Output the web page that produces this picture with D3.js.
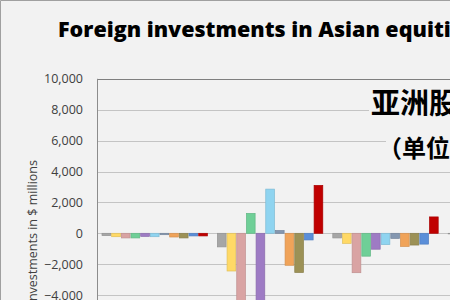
<!DOCTYPE html>
<html>
<head>
<meta charset="utf-8">
<script src="https://cdn.jsdelivr.net/npm/d3@7"></script>
<style>
  html, body { margin: 0; padding: 0; background: #f2f2f2; overflow: hidden; }
  svg { display: block; }
</style>
</head>
<body>
<div id="chart"></div>
<script>
// ---- data ----
const categories = ["Period 1", "Period 2", "Period 3", "Period 4"];
const seriesNames = ["India", "Indonesia", "Japan", "Malaysia", "Pakistan", "Philippines",
                     "South Korea", "Sri Lanka", "Taiwan", "Thailand", "Vietnam"];
const seriesColors = ["#a6a6a6", "#ffd966", "#d9a3a3", "#6fcf97", "#9e7bc4", "#8fd4f0",
                      "#8497b0", "#f0a359", "#9c9156", "#5b8fd9", "#c00000"];
const india       = [-150,  -880,  -300, -40];
const indonesia   = [-220, -2440,  -650, null];
const japan       = [-300, -5200, -2550, null];
const malaysia    = [-300,  1290, -1480, null];
const pakistan    = [-200, -5000, -1030, null];
const philippines = [-220,  2860,  -730, null];
const southKorea  = [-90,    180,  -330, null];
const sriLanka    = [-240, -2070,  -850, null];
const taiwan      = [-300, -2540,  -760, null];
const thailand    = [-170,  -430,  -700, null];
const vietnam     = [-170,  3100,  1060, null];
const yTicks = [-4000, -2000, 0, 2000, 4000, 6000, 8000, 10000];
const titleText = "Foreign investments in Asian equities";
const yAxisTitle = "Investments in $ millions";
const noteLine1 = "亚洲股市";
const noteLine2 = "（单位：百万美元）";

const seriesValues = [india, indonesia, japan, malaysia, pakistan, philippines,
                      southKorea, sriLanka, taiwan, thailand, vietnam];

// ---- layout ----
const W = 450, H = 300;
const plotLeft = 97, groupStep = 115.4;
const yTop = 78.8, yZero = 233.3;

const svg = d3.select("#chart").append("svg")
  .attr("width", W).attr("height", H);

svg.append("rect").attr("x", 0).attr("y", 0).attr("width", W).attr("height", H)
  .attr("fill", "#f2f2f2");

const y = d3.scaleLinear().domain([0, 10000]).range([yZero, yTop]);
const x0 = d3.scaleBand().domain(categories)
  .range([plotLeft, plotLeft + groupStep * categories.length]).padding(0);
const x1 = d3.scaleBand().domain(seriesNames)
  .range([5, groupStep - 5]).paddingInner(0.1).paddingOuter(0);

// gridlines
svg.append("g").selectAll("line").data(yTicks.filter(t => t !== 10000)).join("line")
  .attr("x1", plotLeft).attr("x2", W)
  .attr("y1", d => Math.round(y(d)) + 0.5).attr("y2", d => Math.round(y(d)) + 0.5)
  .attr("stroke", "#c4c4c4").attr("stroke-width", 1);
// top border
svg.append("line").attr("x1", plotLeft).attr("x2", W)
  .attr("y1", Math.round(y(10000)) + 0.5).attr("y2", Math.round(y(10000)) + 0.5)
  .attr("stroke", "#7f7f7f").attr("stroke-width", 1);

// y axis labels
const yAxis = d3.axisLeft(y).tickValues(yTicks).tickSize(0).tickPadding(14)
  .tickFormat(d3.format(","));
const gy = svg.append("g").attr("transform", `translate(${plotLeft},0)`).call(yAxis);
gy.select(".domain").remove();
gy.selectAll("text").attr("fill", "#404040")
  .style("font-family", "'Open Sans', sans-serif").style("font-size", "12.5px");

// left axis line
svg.append("line").attr("x1", plotLeft + 0.5).attr("x2", plotLeft + 0.5)
  .attr("y1", y(10000)).attr("y2", H)
  .attr("stroke", "#8c8c8c").attr("stroke-width", 1);

// bars
const barData = [];
categories.forEach((c, gi) => {
  seriesNames.forEach((s, si) => {
    const v = seriesValues[si][gi];
    if (v !== null && v !== undefined) barData.push({cat: c, series: s, value: v, color: seriesColors[si]});
  });
});
svg.append("g").selectAll("rect").data(barData).join("rect")
  .attr("x", d => x0(d.cat) + x1(d.series))
  .attr("width", x1.bandwidth())
  .attr("y", d => y(Math.max(0, d.value)))
  .attr("height", d => Math.abs(y(d.value) - y(0)))
  .attr("fill", d => d.color)
  .attr("stroke", d => d3.color(d.color).darker(0.35))
  .attr("stroke-width", 0.7);

// y axis title
svg.append("text")
  .attr("transform", "translate(37,160) rotate(-90)")
  .attr("text-anchor", "end")
  .attr("fill", "#404040")
  .style("font-family", "'Open Sans', sans-serif").style("font-size", "12.5px")
  .text(yAxisTitle);

// title
svg.append("text")
  .attr("x", 58).attr("y", 37)
  .attr("fill", "#000")
  .style("font-family", "'Open Sans', sans-serif").style("font-weight", "800")
  .style("font-size", "21.5px")
  .text(titleText);

// outer border
svg.append("path").attr("d", `M0.5,${H} V0.5 H${W}`)
  .attr("fill", "none").attr("stroke", "#a0a0a0").attr("stroke-width", 1);

// Chinese annotation
svg.append("rect").attr("x", 369).attr("y", 87).attr("width", 90).attr("height", 33).attr("fill", "#f2f2f2");
svg.append("rect").attr("x", 386).attr("y", 135).attr("width", 70).attr("height", 27).attr("fill", "#f2f2f2");
svg.append("text")
  .attr("x", 371).attr("y", 114)
  .attr("fill", "#000")
  .style("font-family", "'Noto Sans CJK SC', sans-serif").style("font-weight", "700")
  .style("font-size", "29px")
  .text(noteLine1);
svg.append("text")
  .attr("x", 378).attr("y", 157)
  .attr("fill", "#000")
  .style("font-family", "'Noto Sans CJK SC', sans-serif").style("font-weight", "700")
  .style("font-size", "24px")
  .text(noteLine2);
</script>
</body>
</html>
